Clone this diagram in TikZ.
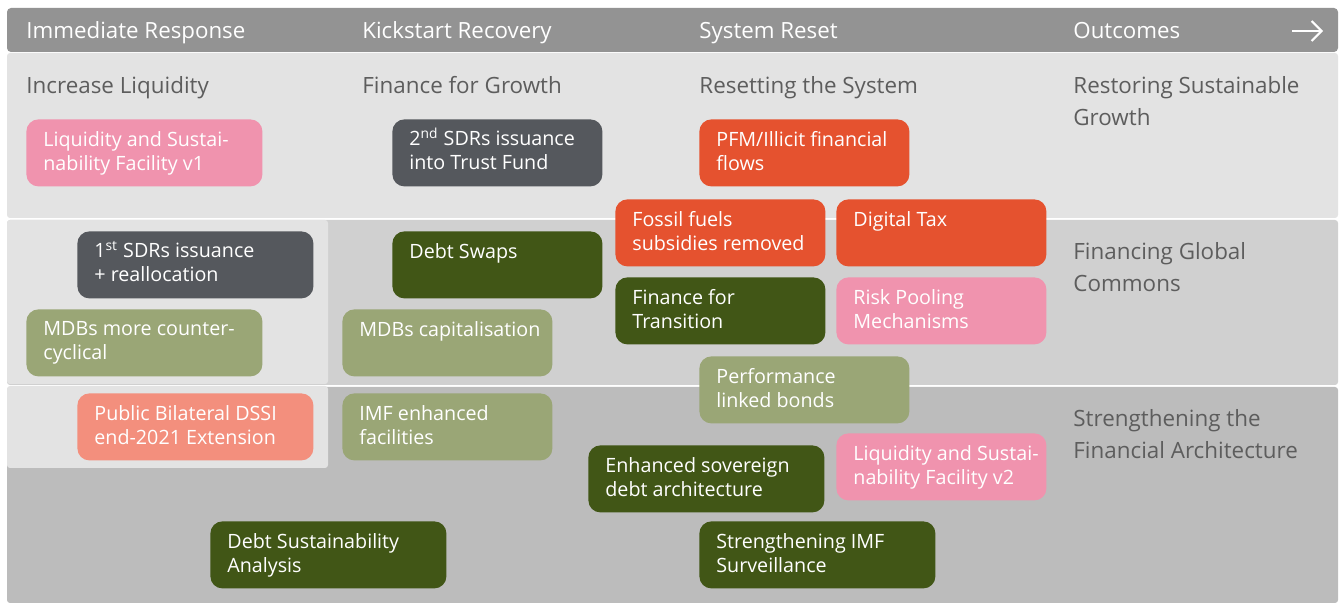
\documentclass[tikz,border=0pt]{standalone}
\usepackage{fontspec}
\setmainfont{Open Sans}
\usetikzlibrary{arrows.meta}
\definecolor{headgray}{HTML}{939393}
\definecolor{bandA}{HTML}{E3E3E3}
\definecolor{bandB}{HTML}{D0D0D0}
\definecolor{bandC}{HTML}{BCBCBC}
\definecolor{titlegray}{HTML}{5D5D5D}
\definecolor{pinkc}{HTML}{F093AE}
\definecolor{slatec}{HTML}{55585D}
\definecolor{orangec}{HTML}{E5522F}
\definecolor{greenc}{HTML}{415616}
\definecolor{olivec}{HTML}{9AA676}
\definecolor{salmonc}{HTML}{F38F7D}
\newcommand{\ordsup}[1]{\smash{\textsuperscript{#1}}}
\begin{document}
\begin{tikzpicture}[x=0.5pt, y=-0.5pt,
    card/.style={rounded corners=6pt, minimum height=33.5pt, inner sep=0pt, anchor=north west},
    wide/.style={card, minimum width=118pt},
    narrow/.style={card, minimum width=105pt},
    cardtxt/.style={anchor=north west, inner sep=0pt, xshift=8.5pt, yshift=-6pt, align=left, text=white, font=\fontsize{9.85}{12}\selectfont},
    colhead/.style={anchor=base west, inner sep=0pt, text=white, font=\fontsize{11.15}{13}\selectfont},
    rowtitle/.style={anchor=north west, inner sep=0pt, align=left, text=titlegray, font=\fontsize{11.2}{16}\selectfont},
  ]
    \useasboundingbox (0,0) rectangle (1343,603);
    % bands
    \fill[headgray, rounded corners=2pt] (7,8) rectangle (1338,52);
    \fill[bandA, rounded corners=1.5pt] (7,53) rectangle (1338,218);
    \fill[bandB, rounded corners=1.5pt] (7,220) rectangle (1338,385);
    \fill[bandC, rounded corners=1.5pt] (7,387) rectangle (1338,603);
    \fill[bandA, rounded corners=1.5pt] (7,220) rectangle (328,384);
    \fill[bandA, rounded corners=1.5pt] (7,386) rectangle (328,468);
    % column heads
    \node[colhead] (hImm) at (26,39) {Immediate Response};
    \node[colhead] (hKick) at (362,39) {Kickstart Recovery};
    \node[colhead] (hRes) at (699,39) {System Reset};
    \node[colhead] (hOut) at (1073,39) {Outcomes};
    \coordinate (arrS) at (1292,31);
    \coordinate (arrE) at (1323,31);
    \draw[white, line width=1pt, -{Straight Barb[length=5pt, width=10pt]}] (arrS) -- (arrE);
    % row titles
    \node[rowtitle] (tLiq) at (26,76) {Increase Liquidity};
    \node[rowtitle] (tFin) at (362,76) {Finance for Growth};
    \node[rowtitle] (tSys) at (699,76) {Resetting the System};
    \node[rowtitle] (tGrow) at (1073,76) {Restoring Sustainable\\Growth};
    \node[rowtitle] (tComm) at (1073,242) {Financing Global\\Commons};
    \node[rowtitle] (tArch) at (1073,409) {Strengthening the\\Financial Architecture};
    % cards
    \node[wide, fill=pinkc, label={[cardtxt]north west:{Liquidity and Sustai-\\nability Facility v1}}] (lsf1) at (26,119) {};
    \node[narrow, fill=slatec, label={[cardtxt]north west:{2\ordsup{nd} SDRs issuance\\into Trust Fund}}] (sdr2) at (392,119) {};
    \node[narrow, fill=orangec, label={[cardtxt]north west:{PFM/Illicit financial\\flows}}] (pfm) at (699,119) {};
    \node[narrow, fill=orangec, label={[cardtxt]north west:{Fossil fuels\\subsidies removed}}] (fossil) at (615,199) {};
    \node[narrow, fill=orangec, label={[cardtxt]north west:{Digital Tax}}] (dtax) at (836,199) {};
    \node[wide, fill=slatec, label={[cardtxt]north west:{1\ordsup{st} SDRs issuance\\+ reallocation}}] (sdr1) at (77,231) {};
    \node[narrow, fill=greenc, label={[cardtxt]north west:{Debt Swaps}}] (swaps) at (392,231) {};
    \node[narrow, fill=greenc, label={[cardtxt]north west:{Finance for\\Transition}}] (trans) at (615,277) {};
    \node[narrow, fill=pinkc, label={[cardtxt]north west:{Risk Pooling\\Mechanisms}}] (risk) at (836,277) {};
    \node[wide, fill=olivec, label={[cardtxt]north west:{MDBs more counter-\\cyclical}}] (mdbcc) at (26,309) {};
    \node[narrow, fill=olivec, label={[cardtxt]north west:{MDBs capitalisation}}] (mdbcap) at (342,309) {};
    \node[narrow, fill=olivec, label={[cardtxt]north west:{Performance\\linked bonds}}] (perf) at (699,356) {};
    \node[wide, fill=salmonc, label={[cardtxt]north west:{Public Bilateral DSSI\\end-2021 Extension}}] (dssi) at (77,393) {};
    \node[narrow, fill=olivec, label={[cardtxt]north west:{IMF enhanced\\facilities}}] (imffac) at (342,393) {};
    \node[wide, fill=greenc, label={[cardtxt]north west:{Enhanced sovereign\\debt architecture}}] (sovdebt) at (588,445) {};
    \node[narrow, fill=pinkc, label={[cardtxt]north west:{Liquidity and Sustai-\\nability Facility v2}}] (lsf2) at (836,433) {};
    \node[wide, fill=greenc, label={[cardtxt]north west:{Debt Sustainability\\Analysis}}] (dsa) at (210,521) {};
    \node[wide, fill=greenc, label={[cardtxt]north west:{Strengthening IMF\\Surveillance}}] (surv) at (699,521) {};
  \end{tikzpicture}
\end{document}
